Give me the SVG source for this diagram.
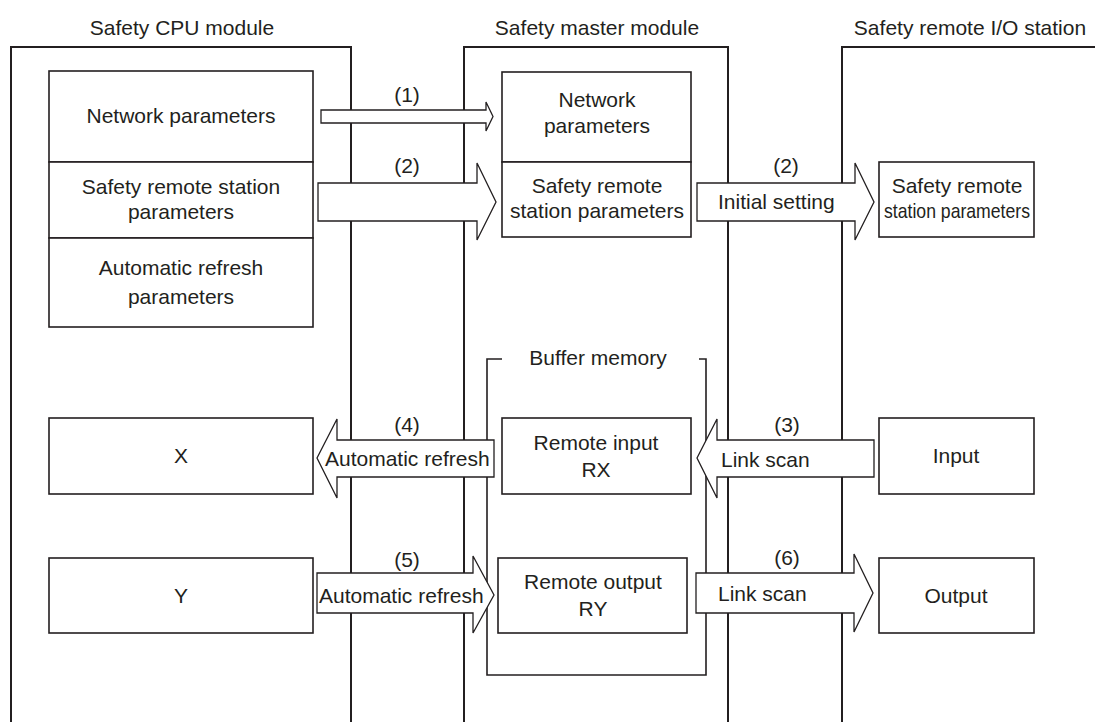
<svg xmlns="http://www.w3.org/2000/svg" width="1095" height="722" viewBox="0 0 1095 722">
<style>
text{font-family:"Liberation Sans",Arial,sans-serif;font-size:21px;fill:#231f20;}
.c{text-anchor:middle;}
.frame{fill:none;stroke:#231f20;stroke-width:2;}
.box{fill:#fff;stroke:#231f20;stroke-width:1.6;}
.bracket{fill:none;stroke:#231f20;stroke-width:1.6;}
.arrow{fill:#fff;stroke:#231f20;stroke-width:1.3;stroke-linejoin:miter;}
</style>
<rect width="1095" height="722" fill="#fff"/>
<g id="cpu-module">
<path class="frame" d="M11,722 V47 H351 V722"/>
<text class="c" x="182" y="35">Safety CPU module</text>
</g>
<g id="master-module">
<path class="frame" d="M464,722 V47 H728 V722"/>
<text class="c" x="597" y="35">Safety master module</text>
</g>
<g id="remote-station">
<path class="frame" d="M842,722 V47 H1096"/>
<text class="c" x="970" y="35">Safety remote I/O station</text>
</g>
<g id="buffer-memory">
<path class="bracket" d="M502,359 H487 V675 H706 V359 H699"/>
<text class="c" x="598" y="365">Buffer memory</text>
</g>
<g id="cpu-network-params">
<rect class="box" x="49" y="71" width="264" height="91"/>
<text class="c" x="181" y="123">Network parameters</text>
</g>
<g id="cpu-safety-remote-params">
<rect class="box" x="49" y="162" width="264" height="76"/>
<text class="c" x="181" y="194">Safety remote station</text>
<text class="c" x="181" y="219">parameters</text>
</g>
<g id="cpu-auto-refresh-params">
<rect class="box" x="49" y="238" width="264" height="89"/>
<text class="c" x="181" y="275">Automatic refresh</text>
<text class="c" x="181" y="304">parameters</text>
</g>
<g id="master-network-params">
<rect class="box" x="502" y="72" width="189" height="90"/>
<text class="c" x="597" y="107">Network</text>
<text class="c" x="597" y="133">parameters</text>
</g>
<g id="master-safety-remote-params">
<rect class="box" x="502" y="162" width="189" height="75"/>
<text class="c" x="597" y="193">Safety remote</text>
<text class="c" x="597" y="218">station parameters</text>
</g>
<g id="remote-safety-params">
<rect class="box" x="879" y="162" width="155" height="75"/>
<text class="c" x="957" y="193">Safety remote</text>
<text x="884" y="218" textLength="146" lengthAdjust="spacingAndGlyphs">station parameters</text>
</g>
<g id="x-device">
<rect class="box" x="49" y="418" width="264" height="76"/>
<text class="c" x="181" y="463">X</text>
</g>
<g id="remote-input-rx">
<rect class="box" x="502" y="418" width="189" height="76"/>
<text class="c" x="596" y="450">Remote input</text>
<text class="c" x="596" y="477">RX</text>
</g>
<g id="input">
<rect class="box" x="879" y="418" width="155" height="76"/>
<text class="c" x="956" y="463">Input</text>
</g>
<g id="y-device">
<rect class="box" x="49" y="558" width="264" height="75"/>
<text class="c" x="181" y="603">Y</text>
</g>
<g id="remote-output-ry">
<rect class="box" x="498" y="558" width="189" height="75"/>
<text class="c" x="593" y="589">Remote output</text>
<text class="c" x="593" y="616">RY</text>
</g>
<g id="output">
<rect class="box" x="879" y="558" width="155" height="75"/>
<text class="c" x="956" y="603">Output</text>
</g>
<g id="connectors">
<polygon class="arrow" points="321,110 486,110 486,102 493,116.5 486,131 486,123 321,123"/>
<text class="c" x="407" y="102">(1)</text>
<polygon class="arrow" points="318,183 477,183 477,163 496,202 477,240 477,221 318,221"/>
<text class="c" x="407" y="173">(2)</text>
<polygon class="arrow" points="697,183 855,183 855,163 874,202 855,240 855,221 697,221"/>
<text class="c" x="786" y="173">(2)</text>
<text x="718" y="209">Initial setting</text>
<polygon class="arrow" points="317,458 337,419 337,440 494,440 494,477 337,477 337,498"/>
<text class="c" x="407" y="432">(4)</text>
<text x="325" y="466">Automatic refresh</text>
<polygon class="arrow" points="697,458 717,419 717,440 874,440 874,477 717,477 717,498"/>
<text class="c" x="787" y="432">(3)</text>
<text x="721" y="467">Link scan</text>
<polygon class="arrow" points="317,573 473,573 473,556 494,595 473,633 473,613 317,613"/>
<text class="c" x="407" y="567">(5)</text>
<text x="319" y="603">Automatic refresh</text>
<polygon class="arrow" points="696,573 854,573 854,554 873,593 854,632 854,613 696,613"/>
<text class="c" x="787" y="565">(6)</text>
<text x="718" y="601">Link scan</text>
</g>
</svg>
